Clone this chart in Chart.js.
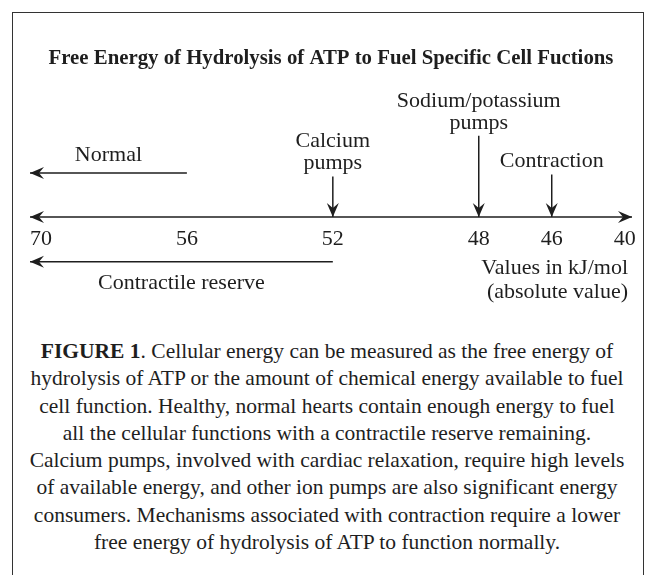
<!DOCTYPE html>
<html>
<head>
<meta charset="utf-8">
<script src="https://cdn.jsdelivr.net/npm/chart.js@4.4.1/dist/chart.umd.min.js"></script>
<style>
  body { margin: 0; background: #fff; width: 650px; height: 575px; overflow: hidden; position: relative;
         font-family: "Liberation Serif", "DejaVu Serif", serif; color: #1e1e1e; }
  #frame { position: absolute; left: 12px; top: 12px; width: 630px; height: 620px; border: 1.4px solid #333; }
  #wrap { position: absolute; left: 0; top: 0; width: 650px; height: 320px; }
  #caption { position: absolute; left: 10px; top: 338px; width: 634px; text-align: center;
             font-size: 21.5px; line-height: 27.3px; white-space: nowrap; }
</style>
</head>
<body>
<div id="frame"></div>
<div id="wrap"><canvas id="numline"></canvas></div>
<div id="caption">
  <b>FIGURE 1</b>. Cellular energy can be measured as the free energy of<br>
  hydrolysis of ATP or the amount of chemical energy available to fuel<br>
  cell function. Healthy, normal hearts contain enough energy to fuel<br>
  all the cellular functions with a contractile reserve remaining.<br>
  Calcium pumps, involved with cardiac relaxation, require high levels<br>
  of available energy, and other ion pumps are also significant energy<br>
  consumers. Mechanisms associated with contraction require a lower<br>
  free energy of hydrolysis of ATP to function normally.
</div>
<script>
// number line left to right, blank = spacer slot so the gaps match the figure
const categories = ['70', '', '56', '', '52', '', '48', '46', '40'];

// down arrows pointing at a value
const markerNames = [['Calcium', 'pumps'], ['Sodium/potassium', 'pumps'], ['Contraction']];
const markerAt = ['52', '48', '46'];

// left arrows running from a value on past 70
const rangeNames = ['Normal', 'Contractile reserve'];
const rangeFrom = ['56', '52'];

const unitNote = ['Values in kJ/mol', '(absolute value)'];
const titleText = 'Free Energy of Hydrolysis of ATP to Fuel Specific Cell Fuctions';

// layout only (y units above the number line, 1 unit = 10px)
const markerTop = [4.05, 8.15, 4.25];
const rangeLevel = [4.4, -4.5];
const rangeSide = [-1, 1];   // label above / below its arrow
const xMin = -0.15, xMax = 8.1;

const ink = '#1e1e1e';
const serif = '"Liberation Serif", "DejaVu Serif", serif';
const labelSize = 22;

function slot(label) { return categories.indexOf(label); }

const lineStyle = { borderColor: ink, borderWidth: 1.5, pointRadius: 0, fill: false };
const datasets = [];
// the number line itself
datasets.push(Object.assign({ data: [{x: xMin, y: 0}, {x: xMax, y: 0}], arrows: 'both' }, lineStyle));
rangeFrom.forEach(function(v, i) {
    datasets.push(Object.assign({
        data: [{x: slot(v), y: rangeLevel[i]}, {x: xMin, y: rangeLevel[i]}],
        arrows: 'end', note: [rangeNames[i]], side: rangeSide[i]
    }, lineStyle));
});
markerAt.forEach(function(v, i) {
    datasets.push(Object.assign({
        data: [{x: slot(v), y: markerTop[i]}, {x: slot(v), y: 0}],
        arrows: 'end', note: markerNames[i], marker: true
    }, lineStyle));
});

function head(ctx, tip, from) {
    const a = Math.atan2(tip.y - from.y, tip.x - from.x);
    ctx.save();
    ctx.translate(tip.x, tip.y);
    ctx.rotate(a);
    ctx.beginPath();
    ctx.moveTo(0, 0);
    ctx.lineTo(-14, -6);
    ctx.lineTo(-9, 0);
    ctx.lineTo(-14, 6);
    ctx.closePath();
    ctx.fill();
    ctx.restore();
}

const arrowsAndNotes = {
    id: 'arrowsAndNotes',
    afterDatasetsDraw(chart) {
        const ctx = chart.ctx;
        ctx.save();
        ctx.fillStyle = ink;
        ctx.font = labelSize + 'px ' + serif;
        ctx.textAlign = 'center';
        ctx.textBaseline = 'middle';
        chart.data.datasets.forEach(function(ds, i) {
            const pts = chart.getDatasetMeta(i).data;
            const a = pts[0], b = pts[pts.length - 1];
            head(ctx, b, a);
            if (ds.arrows === 'both') head(ctx, a, b);
            if (!ds.note) return;
            if (ds.marker) {
                const n = ds.note.length;
                ds.note.forEach(function(t, k) {
                    ctx.fillText(t, a.x, a.y - 13 - (n - 1 - k) * 22);
                });
            } else {
                const off = ds.side < 0 ? -17.7 : 21.3;
                ctx.fillText(ds.note[0], (a.x + b.x) / 2, a.y + off);
            }
        });
        const yAxis = chart.scales.y.getPixelForValue(0);
        ctx.textAlign = 'right';
        ctx.fillText(unitNote[0], chart.scales.x.right - 4, yAxis + 51.5);
        ctx.fillText(unitNote[1], chart.scales.x.right - 4, yAxis + 75);
        ctx.restore();
    }
};

const chart = new Chart(document.getElementById('numline').getContext('2d'), {
    type: 'line',
    data: { datasets: datasets },
    options: {
        responsive: true,
        maintainAspectRatio: false,
        animation: false,
        events: [],
        layout: { padding: { left: 30, right: 18, top: 0, bottom: 8.5 } },
        scales: {
            x: {
                type: 'linear',
                position: { y: 0 },
                min: xMin,
                max: xMax,
                grid: { display: false, drawTicks: false },
                border: { display: false },
                afterBuildTicks: function(s) {
                    s.ticks = categories.map(function(c, i) { return { value: i }; })
                        .filter(function(t) { return categories[t.value] !== ''; });
                },
                ticks: {
                    autoSkip: false, maxRotation: 0, padding: 9, color: ink,
                    font: { family: serif, size: labelSize },
                    callback: function(v) { return categories[v]; }
                }
            },
            y: { type: 'linear', display: false, min: -9.5, max: 13.5 }
        },
        plugins: {
            legend: { display: false },
            tooltip: { enabled: false },
            title: {
                display: true, text: titleText, color: ink,
                font: { family: serif, size: 20.8, weight: 'bold' },
                padding: { top: 46, bottom: 11.5 }
            }
        }
    },
    plugins: [arrowsAndNotes]
});
</script>
</body>
</html>
